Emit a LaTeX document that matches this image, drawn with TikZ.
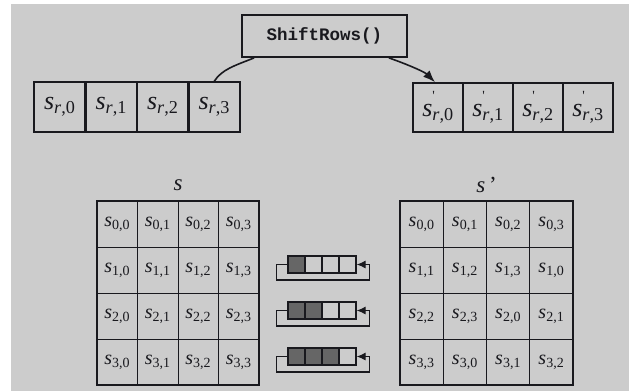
\documentclass[tikz,border=0pt]{standalone}
\usepackage{fontspec}
\setmainfont{Liberation Serif}
\setmonofont{Liberation Mono}
\usetikzlibrary{arrows.meta}
\definecolor{bgc}{RGB}{204,204,204}
\definecolor{darkc}{RGB}{102,102,102}
\definecolor{inkc}{RGB}{25,25,30}
\newcommand{\cel}[1]{\textit{s}\textsubscript{#1}}
\newcommand{\rc}[1]{\textit{s}\textsubscript{\textit{r},#1}}
\newcommand{\rcp}[1]{\textit{s}\rlap{\raisebox{0.62em}{\fontsize{14}{14}\selectfont\textquotesingle}}\textsubscript{\textit{r},#1}}
\tikzset{
  topbox/.style={draw=inkc, line width=1.6pt, minimum width=51pt, minimum height=50pt, inner sep=0pt, text=inkc, font=\fontsize{26}{26}\selectfont},
  gcell/.style={draw=inkc, line width=0.9pt, minimum height=46pt, inner sep=0pt, text=inkc, font=\fontsize{20}{20}\selectfont},
  outer/.style={draw=inkc, line width=2pt},
  regcell/.style={draw=inkc, line width=1.3pt, minimum width=17pt, minimum height=17pt, inner sep=0pt},
  conn/.style={draw=inkc, line width=1.6pt},
  loopline/.style={draw=inkc, line width=1.1pt, -{Latex[length=9pt,width=8pt]}},
  heading/.style={text=inkc, font=\fontsize{23}{23}\selectfont}
}
\begin{document}
\begin{tikzpicture}[x=1pt,y=-1pt]
\useasboundingbox (0,0) rectangle (629,391);
\fill[bgc] (11,4) rectangle (629,391);
% ShiftRows box
\node[draw=inkc, line width=1.8pt, minimum width=165pt, minimum height=42pt, inner sep=0pt, font=\ttfamily\bfseries\fontsize{17.5}{17.5}\selectfont, text=inkc] (sr) at (324.5,36) {ShiftRows()};
% top left row
\foreach \i/\x in {0/59.75,1/111.25,2/162.75,3/214.25}{
  \node[topbox] (a\i) at (\x,107) {\rc{\i}};
}
% top right row
\foreach \i/\x in {0/438,1/488,2/538,3/588}{
  \node[topbox, minimum width=50pt, minimum height=49pt] (b\i) at (\x,107.5) {\rcp{\i}};
}
% connectors
\draw[conn] ([xshift=13pt]sr.south west) .. controls +(-20,8) and +(8,-12) .. (a3.north);
\draw[conn, -{Latex[length=12pt,width=9pt]}] ([xshift=-19pt]sr.south east) .. controls +(20,7) and +(-10,-10) .. ([xshift=-3pt]b0.north);
% headings
\node[heading] (hs) at (178,185) {\textit{s}};
\node[heading] (hsp) at (486.5,185) {\textit{s}\,’};
% left grid
\foreach \r in {0,1,2,3}{
  \foreach \c in {0,1,2,3}{
    \node[gcell, minimum width=40.5pt] (L\r\c) at ({97+40.5*\c+20.25},{201+46*\r+23}) {\cel{\r,\c}};
  }
}
\draw[outer] (L00.north west) rectangle (L33.south east);
% right grid
\foreach \r/\list in {0/{0,1,2,3},1/{1,2,3,0},2/{2,3,0,1},3/{3,0,1,2}}{
  \foreach \v [count=\c from 0] in \list{
    \node[gcell, minimum width=43.25pt] (R\r\c) at ({400+43.25*\c+21.625},{201+46*\r+23}) {\cel{\r,\v}};
  }
}
\draw[outer] (R00.north west) rectangle (R33.south east);
% shift registers
\foreach \r in {1,2,3}{
  \foreach \k in {0,1,2,3}{
    \pgfmathtruncatemacro{\dk}{\k<\r ? 1 : 0}
    \ifnum\dk=1
      \node[regcell, fill=darkc] (g\r\k) at ({288+17*\k+8.5},{256+46*(\r-1)+8.5}) {};
    \else
      \node[regcell] (g\r\k) at ({288+17*\k+8.5},{256+46*(\r-1)+8.5}) {};
    \fi
  }
  \draw[loopline] (g\r0.west) -- ++(-11,0) -- ++(0,15.5) -| ([xshift=13pt]g\r3.east) -- (g\r3.east);
}
\end{tikzpicture}
\end{document}
